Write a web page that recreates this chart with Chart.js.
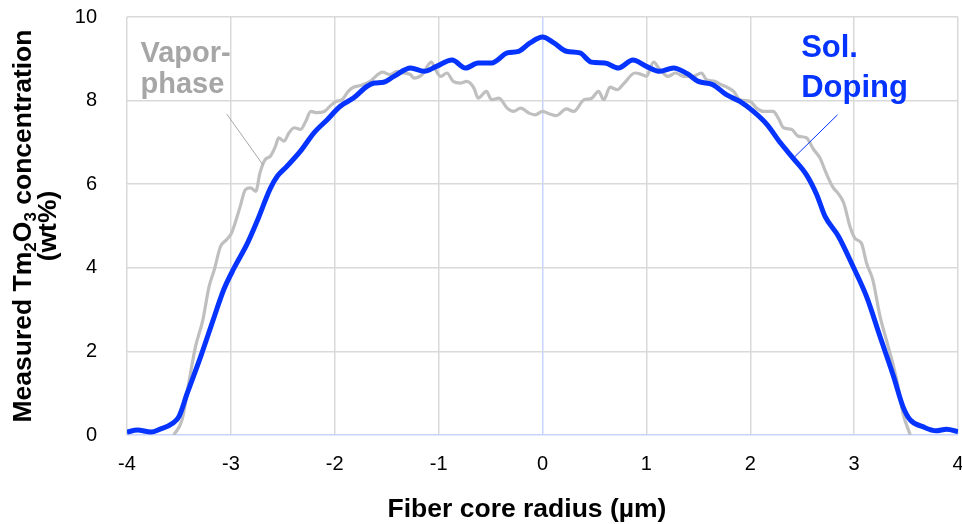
<!DOCTYPE html>
<html>
<head>
<meta charset="utf-8">
<script src="https://cdn.jsdelivr.net/npm/chart.js@4.4.1/dist/chart.umd.min.js"></script>
<style>
html,body{margin:0;padding:0;background:#fff;}
#wrap{width:962px;height:524px;position:relative;}
</style>
</head>
<body>
<div id="wrap"><canvas id="c" width="962" height="524"></canvas></div>
<script>
// ---- data ----
const solDopingX = [-4.0,-3.9,-3.77,-3.68,-3.56,-3.5,-3.42,-3.29,-3.16,-3.07,-2.97,-2.84,-2.75,-2.62,-2.55,-2.46,-2.33,-2.2,-2.07,-1.95,-1.82,-1.69,-1.62,-1.53,-1.43,-1.27,-1.14,-1.02,-0.87,-0.74,-0.62,-0.49,-0.34,-0.23,-0.12,0,0.11,0.23,0.36,0.47,0.6,0.73,0.87,1.0,1.13,1.26,1.39,1.5,1.64,1.77,1.9,2.03,2.16,2.29,2.41,2.54,2.64,2.72,2.85,2.99,3.12,3.25,3.38,3.47,3.54,3.66,3.79,3.89,4.0];
const solDopingY = [0.07,0.12,0.07,0.14,0.28,0.44,1.0,1.88,2.83,3.47,3.99,4.59,5.1,5.9,6.2,6.43,6.79,7.23,7.55,7.86,8.06,8.34,8.42,8.44,8.58,8.78,8.70,8.82,8.97,8.78,8.90,8.90,9.14,9.18,9.38,9.52,9.38,9.18,9.14,8.92,8.90,8.78,8.97,8.82,8.70,8.78,8.65,8.46,8.38,8.14,7.98,7.74,7.43,6.99,6.63,6.23,5.75,5.23,4.75,4.03,3.31,2.35,1.40,0.68,0.36,0.20,0.10,0.14,0.08];

const vaporX = [-3.55,-3.47,-3.40,-3.34,-3.27,-3.21,-3.16,-3.10,-3.05,-3.00,-2.97,-2.91,-2.86,-2.81,-2.76,-2.72,-2.67,-2.62,-2.57,-2.54,-2.49,-2.44,-2.39,-2.33,-2.28,-2.23,-2.17,-2.10,-2.04,-1.99,-1.93,-1.87,-1.82,-1.75,-1.66,-1.54,-1.47,-1.40,-1.33,-1.27,-1.24,-1.16,-1.07,-1.03,-0.98,-0.92,-0.86,-0.79,-0.73,-0.66,-0.62,-0.54,-0.49,-0.42,-0.34,-0.28,-0.21,-0.13,-0.07,0,0.07,0.13,0.23,0.30,0.40,0.47,0.54,0.59,0.65,0.72,0.78,0.89,0.96,1.00,1.07,1.13,1.21,1.28,1.36,1.45,1.53,1.58,1.66,1.72,1.76,1.84,1.90,2.00,2.06,2.13,2.22,2.27,2.32,2.40,2.46,2.54,2.61,2.67,2.73,2.80,2.84,2.90,2.96,3.01,3.07,3.12,3.18,3.25,3.31,3.41,3.47,3.54];
const vaporY = [0,0.36,1.32,2.12,2.75,3.55,3.95,4.51,4.65,4.80,4.99,5.47,5.87,5.91,5.83,6.27,6.59,6.67,6.91,7.11,7.03,7.23,7.35,7.31,7.50,7.74,7.71,7.74,7.88,7.98,8.02,8.22,8.32,8.36,8.46,8.68,8.62,8.70,8.66,8.62,8.54,8.62,8.92,8.74,8.58,8.66,8.46,8.42,8.46,8.30,8.06,8.22,8.02,8.06,7.82,7.74,7.82,7.70,7.66,7.74,7.68,7.64,7.80,7.74,8.02,8.05,8.22,8.02,8.32,8.26,8.40,8.66,8.62,8.58,8.92,8.74,8.58,8.66,8.58,8.58,8.66,8.50,8.46,8.38,8.34,8.22,8.02,7.98,7.82,7.74,7.74,7.58,7.35,7.31,7.15,7.11,6.83,6.63,6.27,5.91,5.80,5.55,4.99,4.70,4.59,4.11,3.71,2.83,2.28,1.32,0.52,0];

const xTicks = [-4,-3,-2,-1,0,1,2,3,4];
const yTicks = [0,2,4,6,8,10];

// label texts and their anchor points in data units
const vaporLabelLines = ["Vapor-", "phase"];
const vaporLabelAt = {x:-3.87, y:[8.93, 8.18]};
const vaporLeaderX = [-3.04, -2.69];
const vaporLeaderY = [7.68, 6.46];
const solLabelLines = ["Sol.", "Doping"];
const solLabelAt = {x:2.49, y:[9.05, 8.09]};
const solLeaderX = [2.84, 2.43];
const solLeaderY = [7.66, 6.66];
const xTitle = 'Fiber core radius (µm)';

const BLUE = '#0533ff';
const GREY_LINE = '#bfbfbf';
const GREY_TEXT = '#a6a6a6';
const FONT = '"Liberation Sans", Arial, sans-serif';

const pts = (xs, ys) => xs.map((x, i) => ({x: x, y: ys[i]}));

const labelPlugin = {
  id: 'labels',
  afterDatasetsDraw(chart) {
    const ctx = chart.ctx, sx = chart.scales.x, sy = chart.scales.y;
    ctx.save();
    ctx.textAlign = 'left';
    ctx.textBaseline = 'alphabetic';
    ctx.fillStyle = GREY_TEXT;
    ctx.font = 'bold 29px ' + FONT;
    vaporLabelLines.forEach((t, i) => ctx.fillText(t, sx.getPixelForValue(vaporLabelAt.x), sy.getPixelForValue(vaporLabelAt.y[i])));
    ctx.fillStyle = BLUE;
    ctx.font = 'bold 31px ' + FONT;
    solLabelLines.forEach((t, i) => ctx.fillText(t, sx.getPixelForValue(solLabelAt.x), sy.getPixelForValue(solLabelAt.y[i])));
    ctx.restore();
  }
};

const titlePlugin = {
  id: 'titles',
  afterDraw(chart) {
    const ctx = chart.ctx, area = chart.chartArea;
    const cy = (area.top + area.bottom) / 2;
    ctx.save();
    ctx.fillStyle = '#000';
    // x axis title
    ctx.font = 'bold 26.5px ' + FONT;
    ctx.textAlign = 'center';
    ctx.textBaseline = 'alphabetic';
    ctx.fillText(xTitle, 527, 517);
    // y axis title with subscripts
    ctx.textBaseline = 'middle';
    const big = 'bold 26.5px ' + FONT, small = 'bold 17px ' + FONT;
    const parts = [["Measured Tm", big, 0], ["2", small, 7], ["O", big, 0], ["3", small, 7], [" concentration", big, 0]];
    let total = 0;
    parts.forEach(p => { ctx.font = p[1]; total += ctx.measureText(p[0]).width; });
    ctx.translate(24, cy);
    ctx.rotate(-Math.PI / 2);
    let x = -total / 2;
    ctx.textAlign = 'left';
    parts.forEach(p => { ctx.font = p[1]; ctx.fillText(p[0], x, p[2]); x += ctx.measureText(p[0]).width; });
    ctx.font = big;
    ctx.textAlign = 'center';
    ctx.fillText("(wt%)", 0, 25);
    ctx.restore();
  }
};

const gridColor = (ctx) => (ctx.tick && ctx.tick.value === 0) ? '#c6d4ff' : '#d9d9d9';

new Chart(document.getElementById('c'), {
  type: 'scatter',
  data: {
    datasets: [
      {label: 'Sol. Doping', data: pts(solDopingX, solDopingY), showLine: true, borderColor: BLUE, borderWidth: 5, pointRadius: 0, cubicInterpolationMode: 'monotone', order: 0},
      {label: 'Vapor-phase', data: pts(vaporX, vaporY), showLine: true, borderColor: GREY_LINE, borderWidth: 3.2, pointRadius: 0, cubicInterpolationMode: 'monotone', order: 2},
      {label: 'vapor leader', data: pts(vaporLeaderX, vaporLeaderY), showLine: true, borderColor: GREY_TEXT, borderWidth: 1, pointRadius: 0, order: 1},
      {label: 'sol leader', data: pts(solLeaderX, solLeaderY), showLine: true, borderColor: BLUE, borderWidth: 1, pointRadius: 0, order: 1}
    ]
  },
  options: {
    responsive: false,
    animation: false,
    devicePixelRatio: 1,
    layout: {padding: {top: 17, right: 4, left: 0, bottom: 0}},
    plugins: {legend: {display: false}, tooltip: {enabled: false}},
    scales: {
      x: {
        type: 'linear', min: -4, max: 4,
        afterBuildTicks: (s) => { s.ticks = xTicks.map(v => ({value: v})); },
        afterFit: (s) => { s.height = 89; s.paddingLeft = 0; s.paddingRight = 0; s.paddingTop = 0; s.paddingBottom = 0; },
        grid: {color: gridColor, lineWidth: 1.5, drawTicks: false},
        border: {display: false},
        ticks: {padding: 17, color: '#000', font: {family: FONT, size: 20}},
        title: {display: false, text: xTitle}
      },
      y: {
        type: 'linear', min: 0, max: 10,
        afterBuildTicks: (s) => { s.ticks = yTicks.map(v => ({value: v})); },
        afterFit: (s) => { s.width = 127; s.paddingTop = 0; s.paddingBottom = 0; s.paddingLeft = 0; s.paddingRight = 0; },
        grid: {color: gridColor, lineWidth: 1.5, drawTicks: false},
        border: {display: false},
        ticks: {padding: 30, color: '#000', font: {family: FONT, size: 20}}
      }
    }
  },
  plugins: [labelPlugin, titlePlugin]
});
</script>
</body>
</html>
